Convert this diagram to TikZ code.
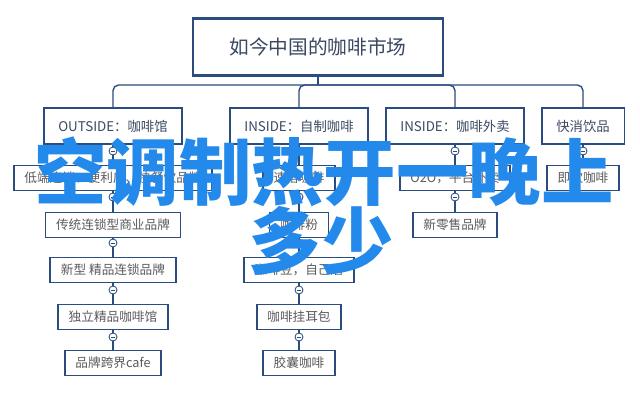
\documentclass[tikz,border=0pt]{standalone}
\usepackage{fontspec}
\usepackage{tikz}
\newfontfamily\cjk{Noto Sans CJK SC}
\definecolor{boxblue}{HTML}{2B4C7E}
\definecolor{txtgray}{HTML}{5A5A5A}
\definecolor{txtdark}{HTML}{3A4862}
\definecolor{overblue}{HTML}{2389EA}

\begin{document}
\begin{tikzpicture}[x=0.025cm,y=-0.025cm,
  title/.style={draw=boxblue,line width=1.5pt,minimum width=6.25cm,minimum height=1.425cm,
    font=\cjk\fontsize{14}{16}\selectfont,text=txtdark},
  branch/.style={draw=boxblue,line width=1.4pt,minimum height=0.9cm,inner xsep=10.5pt,
    font=\cjk\fontsize{9.5}{11}\selectfont,text=txtdark},
  item/.style={draw=boxblue,line width=1.3pt,minimum height=0.625cm,inner xsep=7.5pt,inner ysep=0pt,
    font=\cjk\fontsize{9}{11}\selectfont,text=txtgray},
  fold/.style={circle,draw=boxblue,fill=white,line width=0.6pt,inner sep=0pt,minimum size=0.2cm,
    path picture={\draw[boxblue,line width=0.5pt] ([xshift=1.2pt]path picture bounding box.west) -- ([xshift=-1.2pt]path picture bounding box.east);}},
  link/.style={boxblue,line width=1pt},
  overlay/.style={font=\cjk\bfseries\fontsize{51.5}{52}\selectfont,text=overblue,inner sep=0pt}]
\useasboundingbox (0,0) rectangle (640,400);

\node[title] (market) at (318,47) {如今中国的咖啡市场};

\node[branch] (outside) at (113,126) {OUTSIDE：咖啡馆};
\node[branch] (inside) at (299,126) {INSIDE：自制咖啡};
\node[branch] (takeout) at (455,126) {INSIDE：咖啡外卖};
\node[branch] (fmcg) at (583,126) {快消饮品};

\coordinate (bar) at (318,85);
\draw[link] (market) -- (bar);
\draw[link,rounded corners=4pt] (outside.north) |- (bar) -| (fmcg.north);
\draw[link,rounded corners=4pt] (inside.north) |- (bar);
\draw[link,rounded corners=4pt] (takeout.north) |- (bar);

\node[item] (lowend) at (113,178) {低端连锁、便利店、快餐饮品牌};
\node[item] (chain) at (113,225) {传统连锁型商业品牌};
\node[item] (boutique) at (113,270) {新型 精品连锁品牌};
\node[item] (indie) at (113,317) {独立精品咖啡馆};
\node[item] (crossover) at (113,363) {品牌跨界cafe};

\node[item] (instant) at (299,178) {速溶咖啡};
\node[item] (powder) at (299,225) {咖啡粉};
\node[item] (beans) at (299,270) {咖啡豆，自己磨};
\node[item] (drip) at (299,317) {咖啡挂耳包};
\node[item] (capsule) at (299,363) {胶囊咖啡};

\node[item] (otwoo) at (455,178) {O2O，平台外卖};
\node[item] (newretail) at (455,225) {新零售品牌};

\node[item] (rtd) at (583,178) {即饮咖啡};

\draw[link] (outside) -- (lowend);
\draw[link] (lowend) -- (chain);
\draw[link] (chain) -- (boutique);
\draw[link] (boutique) -- (indie);
\draw[link] (indie) -- (crossover);
\draw[link] (inside) -- (instant);
\draw[link] (instant) -- (powder);
\draw[link] (powder) -- (beans);
\draw[link] (beans) -- (drip);
\draw[link] (drip) -- (capsule);
\draw[link] (takeout) -- (otwoo);
\draw[link] (otwoo) -- (newretail);
\draw[link] (fmcg) -- (rtd);

\node[fold] (f1) at (113,151) {};
\node[fold] (f2) at (113,197) {};
\node[fold] (f3) at (113,243) {};
\node[fold] (f4) at (113,290) {};
\node[fold] (f5) at (113,337) {};
\node[fold] (f6) at (299,151) {};
\node[fold] (f7) at (299,197) {};
\node[fold] (f8) at (299,243) {};
\node[fold] (f9) at (299,290) {};
\node[fold] (f10) at (299,337) {};
\node[fold] (f11) at (455,151) {};
\node[fold] (f12) at (455,197) {};
\node[fold] (f13) at (583,151) {};

\node[overlay] (headline) at (324,172) {空调制热开一晚上};
\node[overlay] (tail) at (321,241) {多少};

\end{tikzpicture}
\end{document}
